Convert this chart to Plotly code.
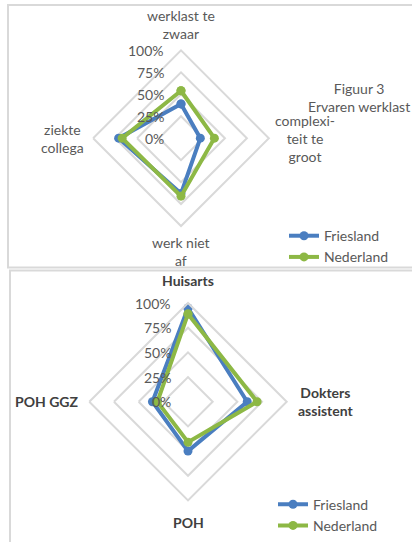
import math
import plotly.graph_objects as go

# ---- data ----
cats_top = ["werklast te zwaar", "complexiteit te groot", "werk niet af", "ziekte collega"]
cats_top_labels = ["werklast te<br>zwaar", "complexi-<br>teit te<br>groot", "werk niet<br>af", "ziekte<br>collega"]
friesland_top = [39, 22, 63, 71]
nederland_top = [54, 38, 66, 67]

cats_bot = ["Huisarts", "Dokters assistent", "POH", "POH GGZ"]
cats_bot_labels = ["<b>Huisarts</b>", "<b>Dokters<br>assistent</b>", "<b>POH</b>", "<b>POH GGZ</b>"]
friesland_bot = [95, 60, 50, 36]
nederland_bot = [89, 70, 41, 31]

r_ticks = [0, 25, 50, 75, 100]
r_ticktext = ["0%", "25%", "50%", "75%", "100%"]

title_top = "Figuur 3<br>Ervaren werklast"
series = ["Friesland", "Nederland"]

BLUE = "#4A7EC0"
GREEN = "#8DB845"
GRID = "#D9D9D9"
TXT = "#595959"
DARK = "#404040"
FONT = "Lato"

W, H = 412, 542

fig = go.Figure()


def close(v):
    return v + v[:1]


for name, vals, col in [(series[0], friesland_top, BLUE), (series[1], nederland_top, GREEN)]:
    fig.add_trace(go.Scatterpolar(
        r=close(vals), theta=close(cats_top), name=name, mode="lines+markers",
        line=dict(color=col, width=4), marker=dict(color=col, size=9),
        subplot="polar", legend="legend"))

for name, vals, col in [(series[0], friesland_bot, BLUE), (series[1], nederland_bot, GREEN)]:
    fig.add_trace(go.Scatterpolar(
        r=close(vals), theta=close(cats_bot), name=name, mode="lines+markers",
        line=dict(color=col, width=4), marker=dict(color=col, size=9),
        subplot="polar2", legend="legend2"))


def px_dom(cx, cy, r):
    return dict(x=[(cx - r) / W, (cx + r) / W], y=[1 - (cy + r) / H, 1 - (cy - r) / H])


def polar_cfg(cats, dom):
    return dict(
        domain=dom,
        gridshape="linear",
        bgcolor="rgba(0,0,0,0)",
        radialaxis=dict(range=[0, 100], tickvals=r_ticks, showticklabels=False,
                        angle=90, showline=False, ticks="",
                        gridcolor=GRID, gridwidth=2),
        angularaxis=dict(categoryarray=cats, categoryorder="array",
                         rotation=90, direction="clockwise", showticklabels=False,
                         showgrid=False, linecolor=GRID, linewidth=2, ticks=""),
    )


# geometry of the two radar charts (centre x, centre y, radius in px)
geo_top = (181, 140, 89)
geo_bot = (188, 407, 100)

fig.update_layout(
    width=W, height=H,
    margin=dict(l=0, r=0, t=0, b=0),
    paper_bgcolor="white", plot_bgcolor="white",
    polar=polar_cfg(cats_top, px_dom(*geo_top)),
    polar2=polar_cfg(cats_bot, px_dom(*geo_bot)),
    legend=dict(x=284 / W, y=1 - 223 / H, xanchor="left", yanchor="top",
                font=dict(family=FONT, size=14, color=TXT), bgcolor="rgba(0,0,0,0)",
                itemwidth=30, tracegroupgap=0),
    legend2=dict(x=273 / W, y=1 - 495 / H, xanchor="left", yanchor="top",
                 font=dict(family=FONT, size=14, color=TXT), bgcolor="rgba(0,0,0,0)",
                 itemwidth=30, tracegroupgap=0),
    showlegend=True,
)


def add_labels(geo, labels, gaps, color, size):
    cx, cy, r = geo
    anchors = [("center", "bottom"), ("left", "middle"), ("center", "top"), ("right", "middle")]
    for i, (lab, gap) in enumerate(zip(labels, gaps)):
        ang = math.radians(90 - 90 * i)
        x = cx + (r + gap) * math.cos(ang)
        y = cy - (r + gap) * math.sin(ang)
        xa, ya = anchors[i]
        fig.add_annotation(text=lab, x=x / W, y=1 - y / H, xref="paper", yref="paper",
                           xanchor=xa, yanchor=ya, showarrow=False, align="center",
                           font=dict(family=FONT, size=size, color=color))


def add_rticks(geo, size):
    cx, cy, r = geo
    for v, t in zip(r_ticks, r_ticktext):
        y = cy - r * v / 100
        fig.add_annotation(text=t, x=(cx - 15) / W, y=1 - y / H, xref="paper", yref="paper",
                           xanchor="right", yanchor="middle", showarrow=False,
                           font=dict(family=FONT, size=size, color=TXT))


add_labels(geo_top, cats_top_labels, [6, 3, 6, 6], TXT, 14)
add_labels(geo_bot, cats_bot_labels, [12, 8, 12, 8], DARK, 14)
add_rticks(geo_top, 14)
add_rticks(geo_bot, 14)

fig.add_annotation(text=title_top, x=359 / W, y=1 - 99 / H, xref="paper", yref="paper",
                   xanchor="center", yanchor="middle",
                   showarrow=False, font=dict(family=FONT, size=14, color=TXT), align="center")

# chart frames
fig.add_shape(type="rect", xref="paper", yref="paper",
              x0=8 / W, x1=1.02, y0=1 - 271 / H, y1=1 - 5 / H,
              line=dict(color=GRID, width=2))
fig.add_shape(type="rect", xref="paper", yref="paper",
              x0=10 / W, x1=1.02, y0=-0.02, y1=1 - 274 / H,
              line=dict(color=GRID, width=2))

fig.write_html("out.html", config={"displayModeBar": False},
               post_script="document.body.style.margin='0';document.body.style.overflow='hidden';")
